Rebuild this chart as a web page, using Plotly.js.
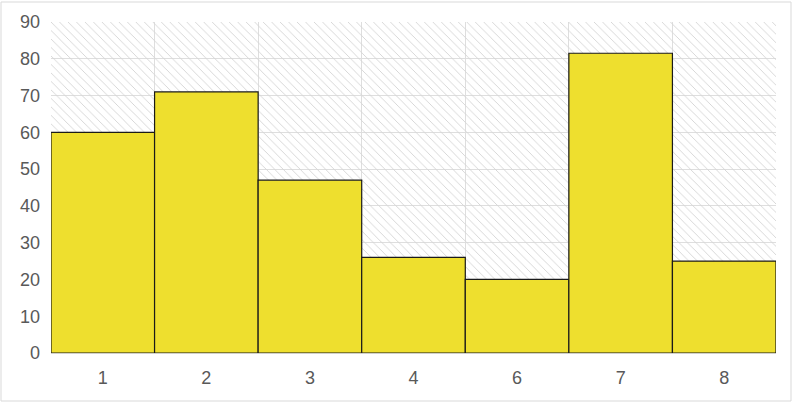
<!DOCTYPE html>
<html>
<head>
<meta charset="utf-8">
<script src="https://cdn.plot.ly/plotly-3.0.1.min.js"></script>
<style>
  html, body { margin: 0; padding: 0; background: #fff; }
  #chart { width: 793px; height: 403px; }
</style>
</head>
<body>
<div id="chart"></div>
<script>
// Chart data
var categories = ['1', '2', '3', '4', '6', '7', '8'];
var values = [60, 71, 47, 26, 20, 81.5, 25];
var yTicks = [0, 10, 20, 30, 40, 50, 60, 70, 80, 90];
var yMax = 90;

// hatched backdrop spanning the whole plot area
var backdrop = {
  x: categories,
  y: categories.map(function () { return yMax; }),
  type: 'bar',
  width: 1,
  hoverinfo: 'skip',
  marker: {
    color: 'rgba(0,0,0,0)',
    line: { width: 0 },
    pattern: { shape: '\\', fgcolor: '#d4d4d4', bgcolor: 'rgba(0,0,0,0)', size: 6, solidity: 0.15 }
  }
};

var bars = {
  x: categories,
  y: values,
  type: 'bar',
  width: 1,
  marker: { color: '#EEDF2E', line: { color: '#1a1a1a', width: 1.2 } }
};

var layout = {
  width: 793,
  height: 403,
  margin: { l: 51, r: 17, t: 22, b: 50 },
  paper_bgcolor: '#ffffff',
  plot_bgcolor: '#ffffff',
  showlegend: false,
  barmode: 'overlay',
  font: { family: 'Liberation Sans, Arial, sans-serif', size: 18, color: '#595959' },
  xaxis: {
    type: 'category',
    tickson: 'boundaries',
    showgrid: true,
    gridcolor: '#dedede',
    gridwidth: 1,
    ticks: '',
    showline: false,
    ticklabelstandoff: 12
  },
  yaxis: {
    range: [0, yMax],
    tickvals: yTicks,
    showgrid: true,
    gridcolor: '#dedede',
    gridwidth: 1,
    zeroline: true,
    zerolinecolor: '#cfcfcf',
    zerolinewidth: 1,
    ticks: '',
    ticklabelstandoff: 10
  },
  shapes: [{
    type: 'rect', xref: 'paper', yref: 'paper',
    x0: -50 / 725, x1: 1 + 15 / 725, y0: -48 / 331, y1: 1 + 20 / 331,
    line: { color: '#d9d9d9', width: 1 }, fillcolor: 'rgba(0,0,0,0)', layer: 'below'
  }]
};

Plotly.newPlot('chart', [backdrop, bars], layout, { staticPlot: true });
</script>
</body>
</html>
